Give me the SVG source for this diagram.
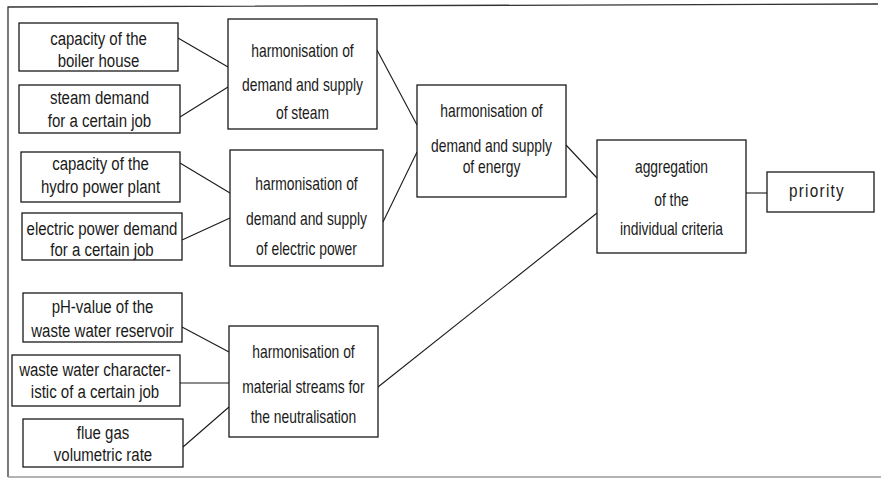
<svg xmlns="http://www.w3.org/2000/svg" width="881" height="479" viewBox="0 0 881 479">
<style>
  .box { fill: #fff; stroke: #1a1a1a; stroke-width: 1.3; }
  .frame { fill: none; stroke: #333; stroke-width: 1.3; }
  .frame2 { fill: none; stroke: #9a9a9a; stroke-width: 1.3; }
  .conn line { stroke: #1a1a1a; stroke-width: 1.1; }
  text { font-family: "Liberation Sans", Arial, sans-serif; fill: #1a1a1a; text-anchor: middle; }
  .s { font-size: 19px; }
  .l { font-size: 18px; }
</style>
<rect width="881" height="479" fill="#fff"/>
<g id="frame">
  <polyline class="frame" points="8,477 8,7 878,4"/>
  <line class="frame2" x1="8" y1="477" x2="881" y2="477"/>
</g>
<g id="connectors" class="conn">
  <line x1="178" y1="38" x2="228" y2="67"/>
  <line x1="180" y1="117" x2="228" y2="87"/>
  <line x1="180" y1="163" x2="230" y2="193"/>
  <line x1="182" y1="240" x2="230" y2="218"/>
  <line x1="182" y1="327" x2="229" y2="352"/>
  <line x1="180" y1="383" x2="229" y2="383"/>
  <line x1="183" y1="447" x2="229" y2="407"/>
  <line x1="377" y1="50" x2="417" y2="125"/>
  <line x1="383" y1="222" x2="417" y2="152"/>
  <line x1="566" y1="145" x2="597" y2="178"/>
  <line x1="378" y1="387" x2="597" y2="213"/>
  <line x1="746" y1="193" x2="767" y2="193"/>
</g>
<g id="n-boiler">
  <rect class="box" x="19" y="23" width="159" height="48"/>
  <text class="s" transform="translate(98.5 0) scale(0.79 1)" x="0" y="45">capacity of the</text>
  <text class="s" transform="translate(98.5 0) scale(0.79 1)" x="0" y="67">boiler house</text>
</g>
<g id="n-steam-demand">
  <rect class="box" x="19" y="85" width="161" height="48"/>
  <text class="s" transform="translate(99.5 0) scale(0.79 1)" x="0" y="104">steam demand</text>
  <text class="s" transform="translate(99.5 0) scale(0.79 1)" x="0" y="127">for a certain job</text>
</g>
<g id="n-hydro">
  <rect class="box" x="21" y="152" width="159" height="50"/>
  <text class="s" transform="translate(100.5 0) scale(0.79 1)" x="0" y="170">capacity of the</text>
  <text class="s" transform="translate(100.5 0) scale(0.79 1)" x="0" y="193">hydro power plant</text>
</g>
<g id="n-elec-demand">
  <rect class="box" x="22" y="213" width="160" height="47"/>
  <text class="s" transform="translate(102 0) scale(0.79 1)" x="0" y="235">electric power demand</text>
  <text class="s" transform="translate(102 0) scale(0.79 1)" x="0" y="256">for a certain job</text>
</g>
<g id="n-ph">
  <rect class="box" x="23" y="293" width="159" height="49"/>
  <text class="s" transform="translate(102.5 0) scale(0.79 1)" x="0" y="313">pH-value of the</text>
  <text class="s" transform="translate(102.5 0) scale(0.79 1)" x="0" y="337">waste water reservoir</text>
</g>
<g id="n-wastewater">
  <rect class="box" x="12" y="355" width="168" height="51"/>
  <text class="s" transform="translate(95 0) scale(0.79 1)" x="0" y="376">waste water character-</text>
  <text class="s" transform="translate(95 0) scale(0.79 1)" x="0" y="398">istic of a certain job</text>
</g>
<g id="n-fluegas">
  <rect class="box" x="23" y="419" width="160" height="48"/>
  <text class="s" transform="translate(103 0) scale(0.79 1)" x="0" y="439">flue gas</text>
  <text class="s" transform="translate(103 0) scale(0.79 1)" x="0" y="461">volumetric rate</text>
</g>
<g id="n-harm-steam">
  <rect class="box" x="228" y="19" width="149" height="110"/>
  <text class="l" transform="translate(302.5 0) scale(0.77 1)" x="0" y="57">harmonisation of</text>
  <text class="l" transform="translate(302.5 0) scale(0.77 1)" x="0" y="91">demand and supply</text>
  <text class="l" transform="translate(302.5 0) scale(0.77 1)" x="0" y="119">of steam</text>
</g>
<g id="n-harm-elec">
  <rect class="box" x="230" y="150" width="153" height="116"/>
  <text class="l" transform="translate(306.5 0) scale(0.77 1)" x="0" y="190">harmonisation of</text>
  <text class="l" transform="translate(306.5 0) scale(0.77 1)" x="0" y="225">demand and supply</text>
  <text class="l" transform="translate(306.5 0) scale(0.77 1)" x="0" y="255">of electric power</text>
</g>
<g id="n-harm-neutral">
  <rect class="box" x="229" y="326" width="149" height="111"/>
  <text class="l" transform="translate(303.5 0) scale(0.77 1)" x="0" y="358">harmonisation of</text>
  <text class="l" transform="translate(303.5 0) scale(0.77 1)" x="0" y="393">material streams for</text>
  <text class="l" transform="translate(303.5 0) scale(0.77 1)" x="0" y="423">the neutralisation</text>
</g>
<g id="n-harm-energy">
  <rect class="box" x="417" y="85" width="149" height="112"/>
  <text class="l" transform="translate(491.5 0) scale(0.77 1)" x="0" y="117">harmonisation of</text>
  <text class="l" transform="translate(491.5 0) scale(0.77 1)" x="0" y="152">demand and supply</text>
  <text class="l" transform="translate(491.5 0) scale(0.77 1)" x="0" y="173">of energy</text>
</g>
<g id="n-aggregation">
  <rect class="box" x="597" y="140" width="149" height="113"/>
  <text class="l" transform="translate(671.5 0) scale(0.77 1)" x="0" y="173">aggregation</text>
  <text class="l" transform="translate(671.5 0) scale(0.77 1)" x="0" y="206">of the</text>
  <text class="l" transform="translate(671.5 0) scale(0.77 1)" x="0" y="235">individual criteria</text>
</g>
<g id="n-priority">
  <rect class="box" x="767" y="172" width="107" height="40"/>
  <text class="l" transform="translate(817 0) scale(0.85 1)" x="0" y="197" letter-spacing="1.5">priority</text>
</g>
</svg>
